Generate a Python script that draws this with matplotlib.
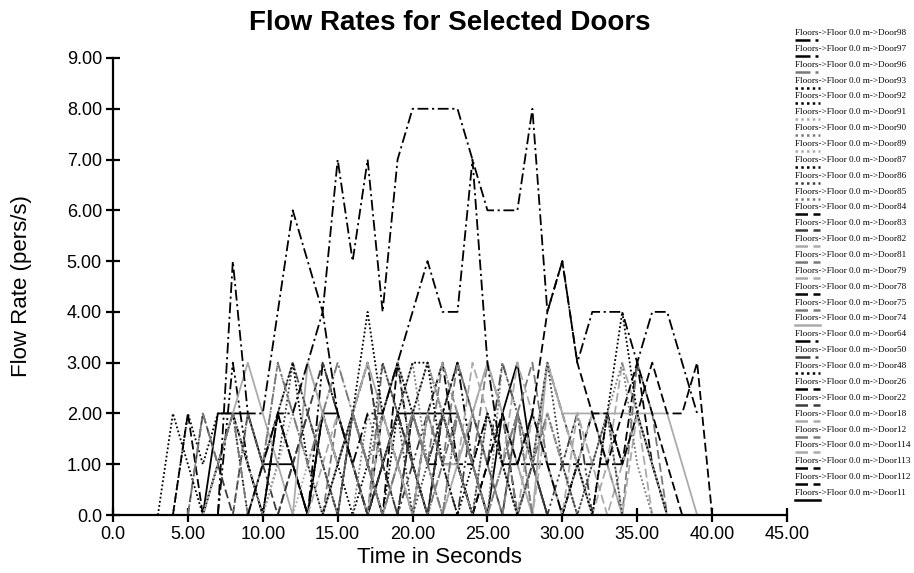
import matplotlib
matplotlib.use("Agg")
import matplotlib.pyplot as plt
from matplotlib.lines import Line2D
import numpy as np

# doors in legend order (top to bottom)
doors = ["98", "97", "96", "93", "92", "91", "90", "89", "87", "86", "85", "84", "83", "82", "81",
         "79", "78", "75", "74", "64", "50", "48", "26", "22", "18", "12", "114", "113", "112", "11"]

# first second of each series (same order as doors)
starts = [7, 9, 5, 30, 14, 6, 8, 12, 3, 10, 16, 24, 5, 13, 9,
          18, 30, 20, 6, 7, 15, 4, 4, 11, 22, 14, 26, 19, 17, 6]

# flow rates (pers/s), one value per second
door98 = [0, 5, 2, 2, 4, 6, 5, 4, 7, 5, 7, 4, 7, 8, 8, 8, 8, 7, 6, 6, 6, 8, 4, 5, 3, 4, 4, 4, 3, 4, 4, 3, 2]
door97 = [0, 1, 2, 2, 3, 4, 2, 1, 2, 2, 3, 4, 5, 4, 4, 7, 3, 1, 1, 2, 1, 0]
door96 = [0, 2, 1, 2, 0, 1, 3, 2, 1, 2, 3, 2, 1, 0, 1, 2, 1, 0, 2, 1, 0]
door93 = [0, 1, 0, 2, 4, 2, 1, 0]
door92 = [0, 1, 2, 4, 2, 3, 2, 3, 1, 0, 1, 2, 1, 0]
door91 = [0, 1, 2, 1, 0, 1, 2, 3, 2, 1, 2, 1, 0, 1, 2, 3, 2, 1, 0]
door90 = [0, 2, 1, 3, 2, 1, 0, 1, 2, 1, 2, 3, 1, 0, 1, 2, 1, 0, 1, 2, 0]
door89 = [0, 1, 2, 3, 2, 1, 2, 1, 0, 2, 3, 2, 1, 0, 1, 2, 1, 3, 2, 1, 0]
door87 = [0, 2, 1, 0, 1, 2, 1, 0, 2, 3, 1, 0, 1, 2, 1, 0, 2, 3, 3, 2, 1, 0]
door86 = [0, 1, 3, 2, 1, 0, 2, 1, 3, 2, 0, 1, 2, 1, 0, 2, 1, 0, 1, 3, 1, 0, 1, 2, 0]
door85 = [0, 2, 1, 2, 3, 1, 0, 2, 1, 0, 3, 2, 1, 2, 1, 0, 1, 2, 3, 1, 0]
door84 = [0, 1, 2, 1, 2, 4, 5, 3, 2, 1, 2, 3, 2, 1, 0]
door83 = [0, 2, 1, 0, 2, 1, 0, 1, 2, 3, 2, 1, 0, 1, 2, 1, 0, 2, 1, 0]
door82 = [0, 1, 2, 1, 0, 2, 3, 2, 1, 0, 1, 3, 2, 1, 0, 2, 1, 0, 2, 1, 2, 0]
door81 = [0, 1, 2, 3, 2, 1, 0, 2, 1, 0, 1, 2, 1, 3, 2, 1, 0, 1, 2, 0]
door79 = [0, 1, 2, 3, 2, 1, 0, 2, 1, 3, 2, 1, 0, 1, 2, 1, 0, 2, 0]
door78 = [0, 1, 2, 2, 1, 2, 3, 2, 2, 3, 0]
door75 = [0, 2, 1, 3, 2, 1, 0, 2, 3, 1, 0, 1, 2, 1, 0, 3, 2, 0]
door74 = [0, 1, 2, 3, 2, 1, 0, 3, 2, 1, 2, 3, 2, 1, 0, 2, 1, 1, 2, 3, 2, 1, 0, 3, 2, 2, 2, 2, 2, 2, 2, 2, 1, 0]
door64 = [0, 3, 1, 0, 2, 1, 0, 3, 2, 1, 0, 1, 2, 1, 0, 2, 3, 1, 0]
door50 = [0, 2, 3, 1, 0, 1, 2, 1, 0, 2, 1, 3, 2, 1, 0, 1, 2, 0]
door48 = [0, 2, 1, 2, 2, 0, 1, 2, 1, 0, 2, 1, 0, 1, 0]
door26 = [0, 2, 0, 1, 2, 1, 0, 2, 1, 0, 2, 1, 2, 1, 0, 3, 1, 0, 2, 1, 0]
door22 = [0, 1, 2, 1, 0, 2, 3, 1, 0, 2, 1, 2, 3, 2, 1, 0, 2, 1, 0]
door18 = [0, 1, 2, 3, 2, 1, 0, 2, 1, 2, 1, 0, 1, 2, 1, 0]
door12 = [0, 2, 1, 0, 3, 2, 1, 0, 1, 2, 1, 3, 2, 0, 1, 2, 1, 0]
door114 = [0, 2, 1, 3, 2, 1, 0, 1, 3, 2, 1, 0]
door113 = [0, 2, 1, 1, 1, 1, 2, 1, 1, 1, 1, 1, 1, 1, 1, 1, 2, 1, 0]
door112 = [0, 2, 1, 0, 2, 3, 1, 0, 1, 2, 0, 1, 3, 2, 1, 0, 2, 1, 3, 1, 0]
door11 = [0, 2, 2, 2, 1, 1, 1, 0, 2, 2, 1, 0, 1, 2, 2, 2, 2, 2, 1, 0, 2, 3, 1, 0]

series = [door98, door97, door96, door93, door92, door91, door90, door89, door87, door86,
          door85, door84, door83, door82, door81, door79, door78, door75, door74, door64,
          door50, door48, door26, door22, door18, door12, door114, door113, door112, door11]

# line styles
BLACK, DARK, GRAY, LIGHT = "#000000", "#3c3c3c", "#7a7a7a", "#ababab"
DASHDOT = (6, 2, 1.2, 2)
DOT = (1, 1.3)
DASH = (5, 2.2)
DDOT = (6, 2, 1.2, 1.6, 1.2, 2)
SOLID = None
styles = [(BLACK, DASHDOT), (BLACK, DASHDOT), (GRAY, DASHDOT), (BLACK, DOT), (BLACK, DOT),
          (LIGHT, DOT), (GRAY, DOT), (LIGHT, DOT), (BLACK, DOT), (DARK, DOT),
          (GRAY, DOT), (BLACK, DASH), (DARK, DASH), (LIGHT, DASH), (GRAY, DASH),
          (LIGHT, DASH), (BLACK, DASH), (GRAY, DASH), (LIGHT, SOLID), (BLACK, DDOT),
          (DARK, DDOT), (BLACK, DOT), (BLACK, DASH), (DARK, DASH), (LIGHT, DASH),
          (GRAY, DASH), (LIGHT, DASH), (BLACK, DASH), (BLACK, DASH), (BLACK, SOLID)]

plt.rcParams['font.family'] = ['Liberation Sans', 'DejaVu Sans']

fig = plt.figure(figsize=(9.14, 5.73), dpi=100)
ax = fig.add_axes([113 / 914, 58 / 573, 674 / 914, 457 / 573])

for vals, st, (col, dash) in reversed(list(zip(series, starts, styles))):
    t = np.arange(st, st + len(vals))
    if dash is None:
        ax.plot(t, vals, color=col, lw=1.3)
    else:
        ax.plot(t, vals, color=col, lw=1.3, dashes=dash)

ax.set_xlim(0, 45)
ax.set_ylim(0, 9)
ax.set_xticks(np.arange(0, 46, 5))
ax.set_xticklabels(["0.0"] + ["%.2f" % v for v in range(5, 46, 5)])
ax.set_yticks(np.arange(0, 10, 1))
ax.set_yticklabels(["0.0"] + ["%.2f" % v for v in range(1, 10)])
for s in ["top", "right"]:
    ax.spines[s].set_visible(False)
for s in ["left", "bottom"]:
    ax.spines[s].set_linewidth(1.6)
ax.tick_params(direction="inout", length=10, width=1.6, labelsize=13, pad=3)

ax.set_xlabel("Time in Seconds", fontsize=16)
ax.set_ylabel("Flow Rate (pers/s)", fontsize=16)
ax.xaxis.set_label_coords(0.485, -0.07)
ax.yaxis.set_label_coords(-0.12, 0.5)

fig.text(0.492, 1 - 23 / 573, "Flow Rates for Selected Doors", ha="center", va="center",
         fontsize=20, fontweight="bold")

# legend: text with the line sample underneath
for i, (d, (col, dash)) in enumerate(zip(doors, styles)):
    yp = 33 + i * 15.86
    fig.text(795 / 914, 1 - yp / 573, "Floors->Floor 0.0 m->Door" + d, fontsize=6.6,
             family="Liberation Serif", ha="left", va="center")
    ly = 1 - (yp + 7) / 573
    ln = Line2D([795 / 914, 820 / 914], [ly, ly], transform=fig.transFigure, color=col, lw=1.8)
    if dash is not None:
        ln.set_dashes(dash)
    fig.add_artist(ln)

fig.savefig("out.png", dpi=100)
